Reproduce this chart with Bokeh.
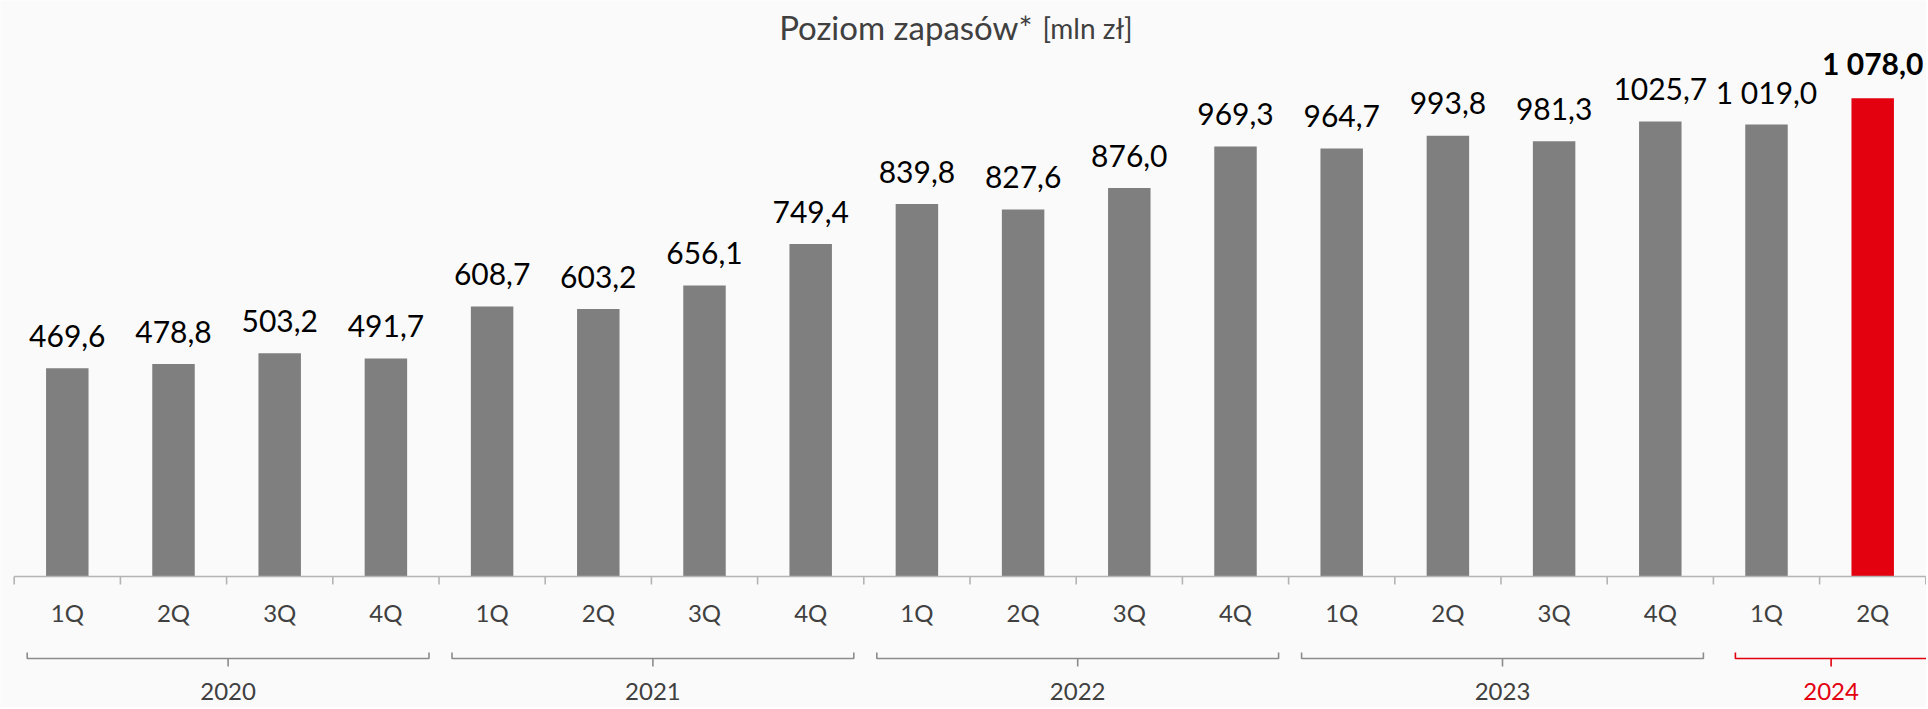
from bokeh.plotting import figure
from bokeh.models import Range1d
from bokeh.core.properties import value
from bokeh.embed import file_html
from bokeh.resources import INLINE

# ---------------- data ----------------
quarters = ["1Q", "2Q", "3Q", "4Q", "1Q", "2Q", "3Q", "4Q", "1Q", "2Q", "3Q", "4Q",
            "1Q", "2Q", "3Q", "4Q", "1Q", "2Q"]
years = ["2020", "2021", "2022", "2023", "2024"]
year_counts = [4, 4, 4, 4, 2]
values = [469.6, 478.8, 503.2, 491.7, 608.7, 603.2, 656.1, 749.4, 839.8, 827.6,
          876.0, 969.3, 964.7, 993.8, 981.3, 1025.7, 1019.0, 1078.0]
value_labels = ["469,6", "478,8", "503,2", "491,7", "608,7", "603,2", "656,1", "749,4",
                "839,8", "827,6", "876,0", "969,3", "964,7", "993,8", "981,3", "1025,7",
                "1 019,0", "1 078,0"]
title_main = "Poziom zapasów*"
title_unit = "[mln zł]"

# ---------------- styling / layout ----------------
GREY_BAR = "#7f7f7f"
RED = "#e3000f"
TXT = "#404040"
BG = "#fafafa"
FONT = "Lato"

W, H = 1926, 707
cat_w = 106.2       # px per category
x0_px = 13.7        # px of first category boundary
axis_px = 576       # px from top of the zero line
ppu = 0.4436        # px per unit of value
upp = 1.0 / ppu
K = 0.33            # empirical downward shift of rendered text baseline (x font size)

n = len(values)


def dy(px):
    return px * upp


def dx(px):
    return px / cat_w


def ty_px(target_from_top, fs):
    # data y whose rendered baseline lands at target_from_top
    return (axis_px - (target_from_top - K * fs)) * upp


x_start = -x0_px / cat_w
x_end = (W - x0_px) / cat_w
y_start = -(H - axis_px) * upp
y_end = axis_px * upp

p = figure(width=W, height=H, x_range=Range1d(x_start, x_end),
           y_range=Range1d(y_start, y_end), output_backend="svg",
           toolbar_location=None, x_axis_location=None, y_axis_location=None,
           min_border=0, min_border_left=0, min_border_right=0,
           min_border_top=0, min_border_bottom=0)
p.grid.visible = False
p.outline_line_color = None
p.background_fill_color = BG
p.border_fill_color = BG

centers = [i + 0.5 for i in range(n)]
colors = [GREY_BAR] * (n - 1) + [RED]

# bars
p.vbar(x=centers, top=values, bottom=0, width=0.4, fill_color=colors, line_color=None)

# value labels
VFS = 30
p.text(x=centers[:-1], y=[v + dy(22.5 + K * VFS) for v in values[:-1]],
       text=value_labels[:-1], text_align="center", text_baseline="alphabetic",
       text_font=value(FONT), text_font_size=f"{VFS}px", text_color="#000000")
p.text(x=[centers[-1]], y=[values[-1] + dy(25 + K * VFS)], text=[value_labels[-1]],
       text_align="center", text_baseline="alphabetic", text_font=value(FONT),
       text_font_size=f"{VFS}px", text_font_style="bold", text_color="#000000")

# axis line + ticks
AX = "#b4b4b4"
p.segment(x0=[0], y0=[0], x1=[n], y1=[0], line_color=AX, line_width=1.6)
p.segment(x0=list(range(n + 1)), y0=[0] * (n + 1), x1=list(range(n + 1)),
          y1=[-dy(8)] * (n + 1), line_color=AX, line_width=1.6)

# quarter labels
QFS = 24
p.text(x=centers, y=[ty_px(620, QFS)] * n, text=quarters, text_align="center",
       text_baseline="alphabetic", text_font=value(FONT), text_font_size=f"{QFS}px",
       text_color=TXT)

# year brackets
start = 0
for i, (yr, c) in enumerate(zip(years, year_counts)):
    last = i == len(years) - 1
    col = RED if last else "#8c8c8c"
    pl, pr = (22, -1) if last else (13, 10)
    bx0 = start + dx(pl)
    bx1 = start + c - dx(pr)
    mid = (bx0 + bx1) / 2
    yb = -dy(82)
    p.multi_line(xs=[[bx0, bx0, bx1, bx1], [mid, mid]],
                 ys=[[-dy(76), yb, yb, -dy(76)], [yb, -dy(90)]],
                 line_color=col, line_width=1.6)
    p.text(x=[mid], y=[ty_px(699, QFS)], text=[yr], text_align="center",
           text_baseline="alphabetic", text_font=value(FONT), text_font_size=f"{QFS}px",
           text_color=col if last else TXT)
    start += c

# title
split = dx(1037 - x0_px)
p.text(x=[split - dx(5)], y=[ty_px(37, 33)], text=[title_main], text_align="right",
       text_baseline="alphabetic", text_font=value(FONT), text_font_size="33px",
       text_color=TXT)
p.text(x=[split + dx(5)], y=[ty_px(37, 28)], text=[title_unit], text_align="left",
       text_baseline="alphabetic", text_font=value(FONT), text_font_size="28px",
       text_color=TXT)

open("out.html", "w").write(file_html(p, INLINE))
